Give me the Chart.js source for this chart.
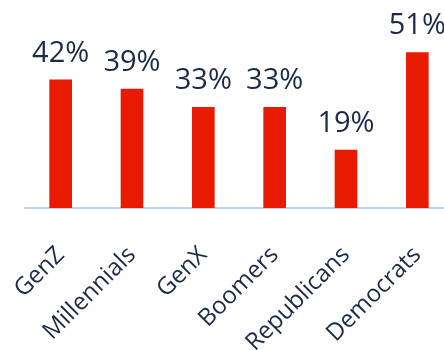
<!DOCTYPE html>
<html>
<head>
<meta charset="utf-8">
<script src="https://cdn.jsdelivr.net/npm/chart.js@4.4.1/dist/chart.umd.min.js"></script>
<style>
  html, body { margin: 0; padding: 0; background: #ffffff; overflow: hidden; }
  #wrap { width: 453px; height: 350px; }
</style>
</head>
<body>
<div id="wrap"><canvas id="c" width="453" height="350"></canvas></div>
<script>
// Share of each group (percent)
const categories = ['GenZ', 'Millennials', 'GenX', 'Boomers', 'Republicans', 'Democrats'];
const values = [42, 39, 33, 33, 19, 51];

const FONT = '"Open Sans", "Noto Sans", sans-serif';
const TEXT = '#1b2a47';

// Writes "NN%" above each bar, positioned from the bar element
const valueLabels = {
  id: 'valueLabels',
  afterDatasetsDraw(chart) {
    const ctx = chart.ctx;
    const meta = chart.getDatasetMeta(0);
    ctx.save();
    ctx.font = '29px ' + FONT;
    ctx.fillStyle = TEXT;
    ctx.textAlign = 'center';
    ctx.textBaseline = 'alphabetic';
    meta.data.forEach((bar, i) => {
      ctx.fillText(values[i] + '%', bar.x, bar.y - 18);
    });
    ctx.restore();
  }
};

new Chart(document.getElementById('c'), {
  type: 'bar',
  data: {
    labels: categories,
    datasets: [{
      data: values,
      backgroundColor: '#e81a00',
      borderWidth: 0,
      barThickness: 22
    }]
  },
  options: {
    responsive: false,
    animation: false,
    layout: { padding: { left: 25, right: 0, top: 0, bottom: 0 } },
    plugins: { legend: { display: false }, tooltip: { enabled: false } },
    scales: {
      y: { display: false, min: 0, max: 68.2 },
      x: {
        grid: { display: false, drawTicks: false },
        border: { display: true, color: '#b9d3f7', width: 2 },
        ticks: {
          autoSkip: false,
          minRotation: 45,
          maxRotation: 45,
          padding: 33,
          color: TEXT,
          font: { family: FONT, size: 24 }
        },
        afterFit(scale) {
          scale.paddingLeft = 0;
          scale.paddingRight = 0;
          scale.height = 142;
        }
      }
    }
  },
  plugins: [valueLabels]
});
</script>
</body>
</html>
